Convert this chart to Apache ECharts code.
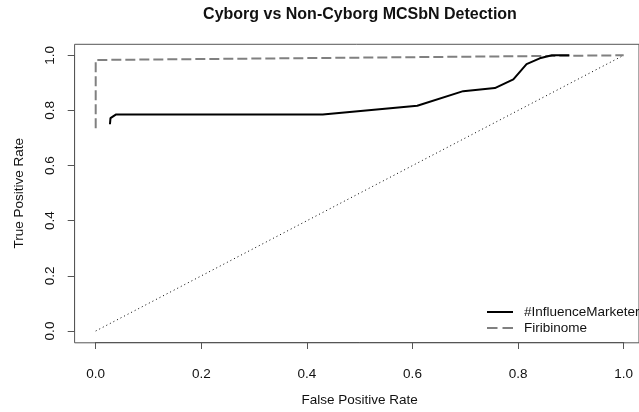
<!DOCTYPE html>
<html>
<head>
<meta charset="utf-8">
<script src="https://cdn.jsdelivr.net/npm/echarts@6/dist/echarts.min.js"></script>
<style>
  html, body { margin: 0; padding: 0; background: #fff; }
  #chart { width: 639px; height: 412px; }
</style>
</head>
<body>
<div id="chart"></div>
<script>
// ROC curves: false positive rate (x) vs true positive rate (y)
const fprInfluence = [0.027, 0.028, 0.038, 0.43, 0.609, 0.696, 0.756, 0.791, 0.816, 0.841, 0.864, 0.897];
const tprInfluence = [0.750, 0.772, 0.785, 0.785, 0.817, 0.870, 0.881, 0.913, 0.968, 0.989, 1.0, 1.0];

const fprFiribinome = [0, 0, 1];
const tprFiribinome = [0.735, 0.983, 1.0];

// chance line
const fprChance = [0, 1];
const tprChance = [0, 1];

const seriesNames = ['#InfluenceMarketer', 'Firibinome'];
const titleText = 'Cyborg vs Non-Cyborg MCSbN Detection';
const xTitle = 'False Positive Rate';
const yTitle = 'True Positive Rate';

const zip = (xs, ys) => xs.map((x, i) => [x, ys[i]]);

const FONT = '"Liberation Sans", Arial, Helvetica, sans-serif';
const TXT = '#111';
const FRAME = '#555';

const chart = echarts.init(document.getElementById('chart'), null, { renderer: 'canvas' });

chart.setOption({
  animation: false,
  backgroundColor: '#fff',
  textStyle: { fontFamily: FONT },
  title: {
    text: titleText,
    left: 360,
    textAlign: 'center',
    top: 7,
    padding: 0,
    textStyle: { fontFamily: FONT, fontWeight: 'bold', fontSize: 16, color: TXT }
  },
  legend: {
    orient: 'vertical',
    left: 486,
    top: 305,
    padding: 0,
    itemWidth: 26,
    itemHeight: 14,
    itemGap: 2,
    data: [
      { name: seriesNames[0] },
      { name: seriesNames[1], lineStyle: { type: [10.5, 5] } }
    ],
    itemStyle: { opacity: 0, borderWidth: 0 },
    textStyle: { fontFamily: FONT, fontSize: 13.5, color: TXT, padding: [0, 0, 0, 6] }
  },
  grid: [
    // data area (0..1 on both axes)
    { left: 95.7, right: 15.3, top: 55.3, bottom: 80.3, show: false },
    // surrounding frame, extended 4% past the data range
    { left: 74.6, top: 44.3, width: 570.4, height: 298.5, show: true,
      borderColor: FRAME, borderWidth: 1, backgroundColor: 'transparent' }
  ],
  xAxis: [
    {
      type: 'value', gridIndex: 0, min: 0, max: 1, interval: 0.2,
      offset: 11,
      name: xTitle, nameLocation: 'middle', nameGap: 51,
      nameTextStyle: { fontFamily: FONT, fontSize: 13.5, color: TXT },
      axisLine: { show: true, onZero: false, lineStyle: { color: FRAME, width: 1 } },
      axisTick: { show: true, length: 7, lineStyle: { color: FRAME, width: 1 } },
      axisLabel: { margin: 25, fontFamily: FONT, fontSize: 13.5, color: TXT,
        formatter: v => v.toFixed(1) },
      splitLine: { show: false }
    },
    { type: 'value', gridIndex: 1, show: false, min: 0, max: 1 }
  ],
  yAxis: [
    {
      type: 'value', gridIndex: 0, min: 0, max: 1, interval: 0.2,
      offset: 21,
      name: yTitle, nameLocation: 'middle', nameGap: 48, nameRotate: 90,
      nameTextStyle: { fontFamily: FONT, fontSize: 13.5, color: TXT },
      axisLine: { show: true, onZero: false, lineStyle: { color: FRAME, width: 1 } },
      axisTick: { show: true, length: 7, lineStyle: { color: FRAME, width: 1 } },
      axisLabel: { margin: 17, rotate: 90, fontFamily: FONT, fontSize: 13.5, color: TXT,
        formatter: v => v.toFixed(1) },
      splitLine: { show: false }
    },
    { type: 'value', gridIndex: 1, show: false, min: 0, max: 1 }
  ],
  series: [
    {
      name: seriesNames[0], type: 'line', xAxisIndex: 0, yAxisIndex: 0,
      data: zip(fprInfluence, tprInfluence),
      symbol: 'none', clip: false, z: 4,
      lineStyle: { color: '#000', width: 2, type: 'solid' },
      itemStyle: { color: '#000' }
    },
    {
      name: seriesNames[1], type: 'line', xAxisIndex: 0, yAxisIndex: 0,
      data: zip(fprFiribinome, tprFiribinome),
      symbol: 'none', clip: false, z: 3,
      lineStyle: { color: '#808080', width: 2, type: [10, 4] },
      itemStyle: { color: '#808080' }
    },
    {
      name: 'chance', type: 'line', xAxisIndex: 0, yAxisIndex: 0,
      data: zip(fprChance, tprChance),
      symbol: 'none', clip: false, z: 2, silent: true,
      lineStyle: { color: '#000', width: 1, type: [1, 3] }
    }
  ]
});
</script>
</body>
</html>
